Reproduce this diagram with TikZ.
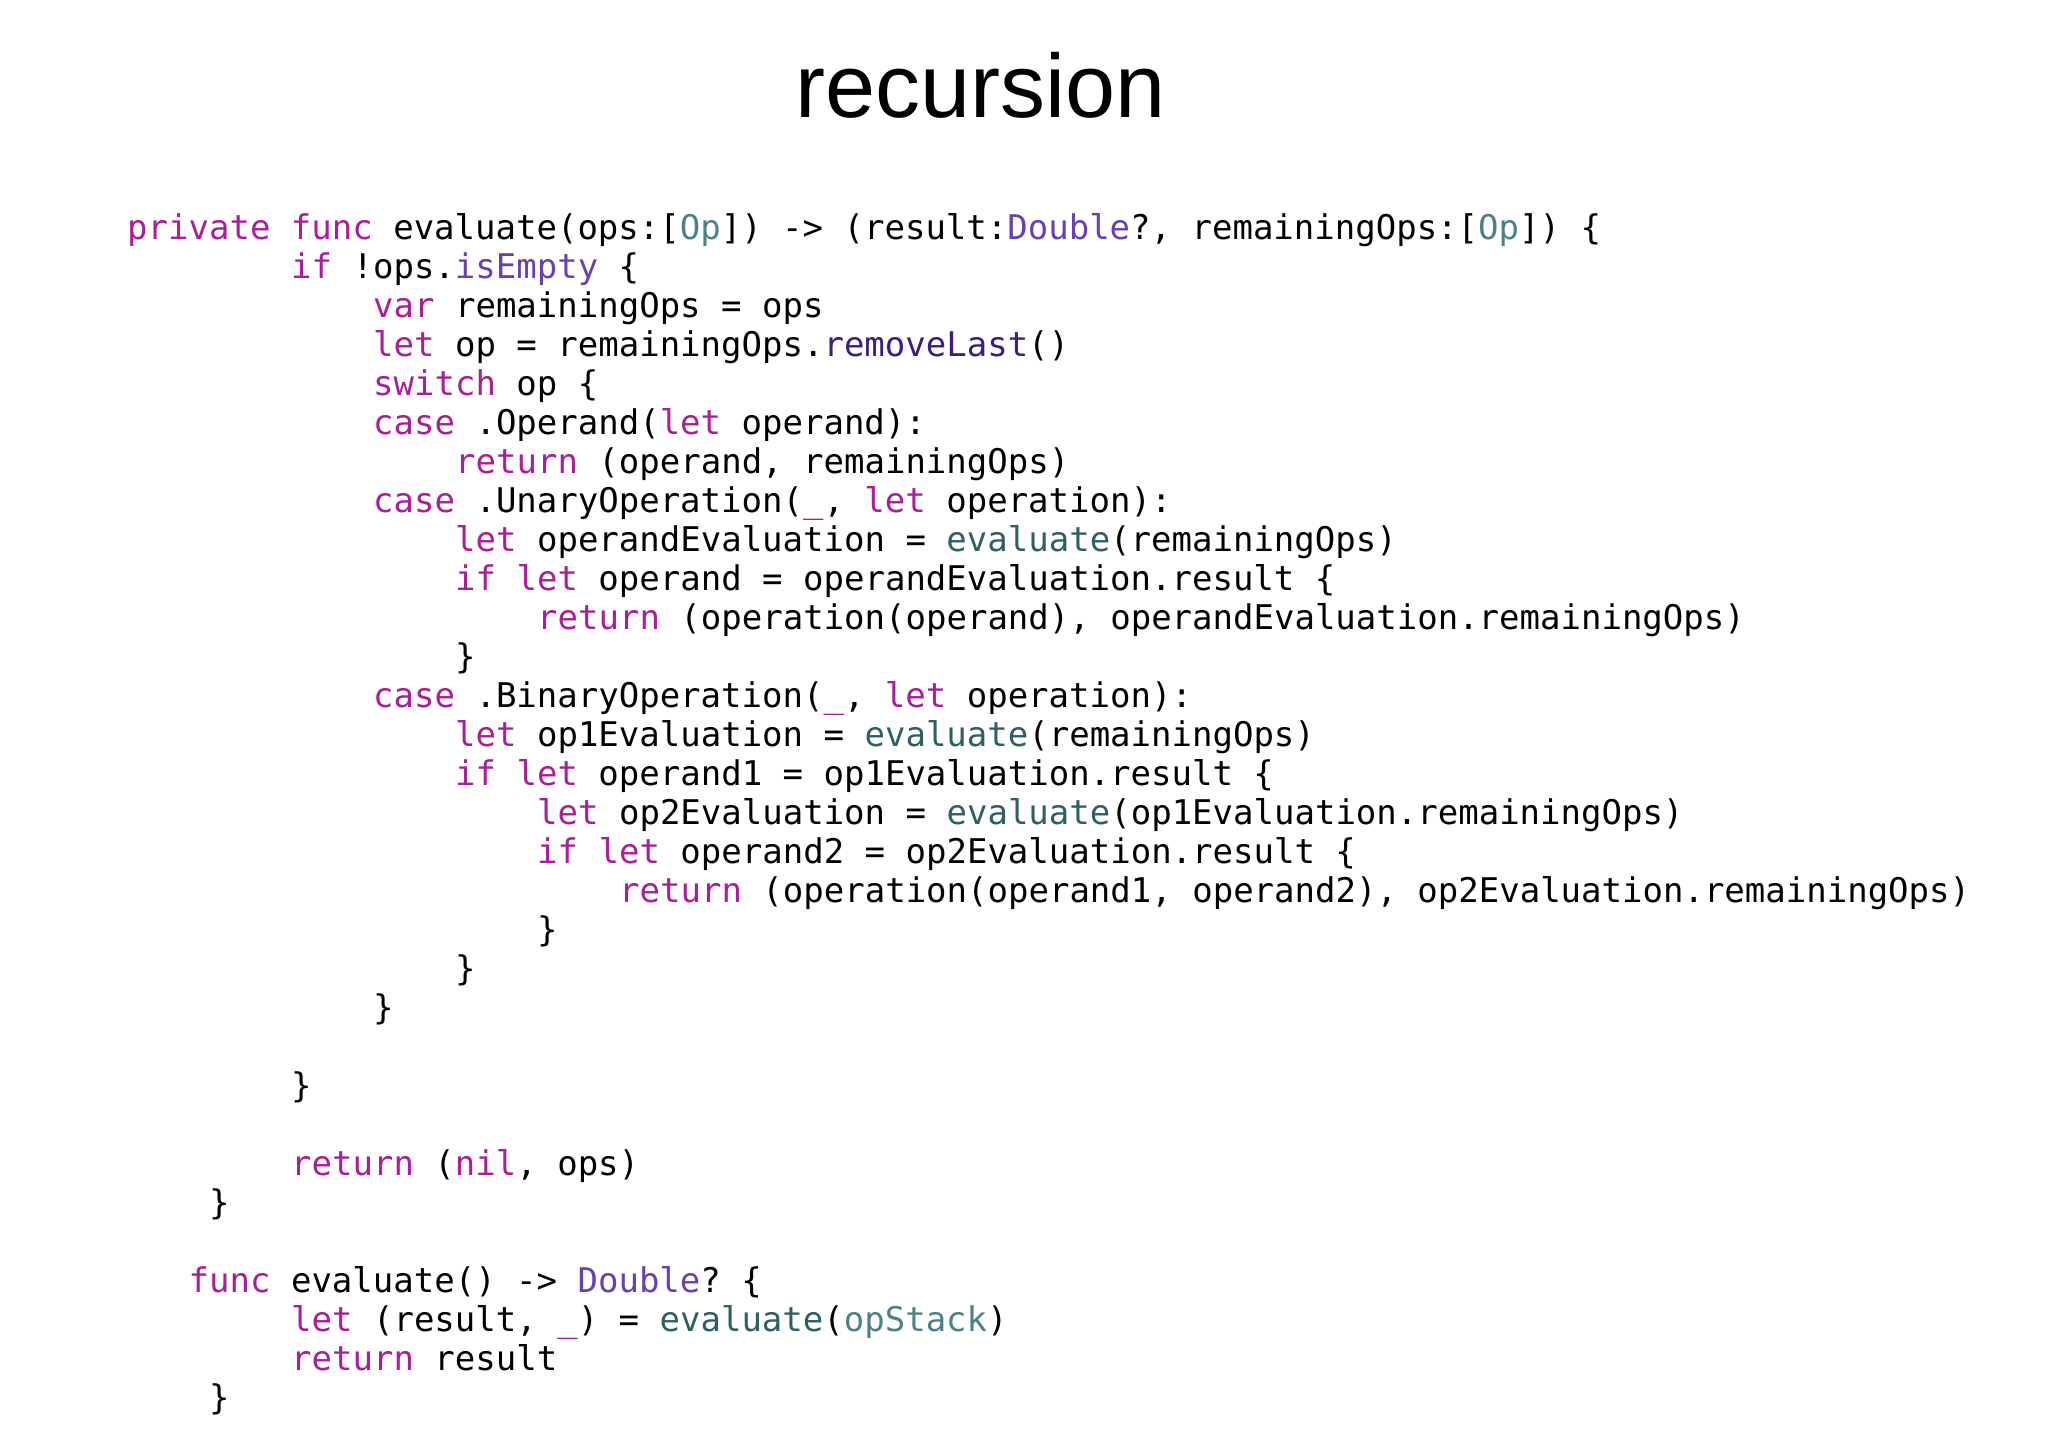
\documentclass[tikz,border=0pt]{standalone}
\usepackage{fontspec}
\setmonofont{DejaVu Sans Mono}
\newfontfamily\titlefont{Liberation Sans}
\definecolor{kw}{HTML}{AA1F99}
\definecolor{ty}{HTML}{4E8087}
\definecolor{pu}{HTML}{6A3FB0}
\definecolor{fn}{HTML}{2F5F63}
\definecolor{mp}{HTML}{3A1D85}
\newcommand{\K}[1]{\textcolor{kw}{#1}}
\newcommand{\T}[1]{\textcolor{ty}{#1}}
\newcommand{\Pu}[1]{\textcolor{pu}{#1}}
\newcommand{\F}[1]{\textcolor{fn}{#1}}
\newcommand{\Mp}[1]{\textcolor{mp}{#1}}
\begin{document}
\begin{tikzpicture}[x=1pt,y=1pt,
  codeline/.style={anchor=base west,inner sep=0pt,font=\fontsize{34}{34}\selectfont\ttfamily}]
\useasboundingbox[fill=white] (0,0) rectangle (2048,1447);
\node[anchor=base,inner sep=0pt,font=\fontsize{90}{90}\selectfont\titlefont] (title) at (981,1447-118) {recursion};
\def\L#1#2#3#4{\node[codeline] (#1) at ({127+20.5*#3},{1447-240-39*#2}) {#4};}
\L{l0}{0}{0}{\K{private func} evaluate(ops:[\T{Op}]) -> (result:\Pu{Double}?, remainingOps:[\T{Op}]) \{}
\L{l1}{1}{8}{\K{if} !ops.\Pu{isEmpty} \{}
\L{l2}{2}{12}{\K{var} remainingOps = ops}
\L{l3}{3}{12}{\K{let} op = remainingOps.\Mp{removeLast}()}
\L{l4}{4}{12}{\K{switch} op \{}
\L{l5}{5}{12}{\K{case} .Operand(\K{let} operand):}
\L{l6}{6}{16}{\K{return} (operand, remainingOps)}
\L{l7}{7}{12}{\K{case} .UnaryOperation(\K{\_}, \K{let} operation):}
\L{l8}{8}{16}{\K{let} operandEvaluation = \F{evaluate}(remainingOps)}
\L{l9}{9}{16}{\K{if let} operand = operandEvaluation.result \{}
\L{l10}{10}{20}{\K{return} (operation(operand), operandEvaluation.remainingOps)}
\L{l11}{11}{16}{\}}
\L{l12}{12}{12}{\K{case} .BinaryOperation(\K{\_}, \K{let} operation):}
\L{l13}{13}{16}{\K{let} op1Evaluation = \F{evaluate}(remainingOps)}
\L{l14}{14}{16}{\K{if let} operand1 = op1Evaluation.result \{}
\L{l15}{15}{20}{\K{let} op2Evaluation = \F{evaluate}(op1Evaluation.remainingOps)}
\L{l16}{16}{20}{\K{if let} operand2 = op2Evaluation.result \{}
\L{l17}{17}{24}{\K{return} (operation(operand1, operand2), op2Evaluation.remainingOps)}
\L{l18}{18}{20}{\}}
\L{l19}{19}{16}{\}}
\L{l20}{20}{12}{\}}
\L{l22}{22}{8}{\}}
\L{l24}{24}{8}{\K{return} (\K{nil}, ops)}
\L{l25}{25}{4}{\}}
\L{l27}{27}{3}{\K{func} evaluate() -> \Pu{Double}? \{}
\L{l28}{28}{8}{\K{let} (result, \K{\_}) = \F{evaluate}(\T{opStack})}
\L{l29}{29}{8}{\K{return} result}
\L{l30}{30}{4}{\}}
\end{tikzpicture}
\end{document}
